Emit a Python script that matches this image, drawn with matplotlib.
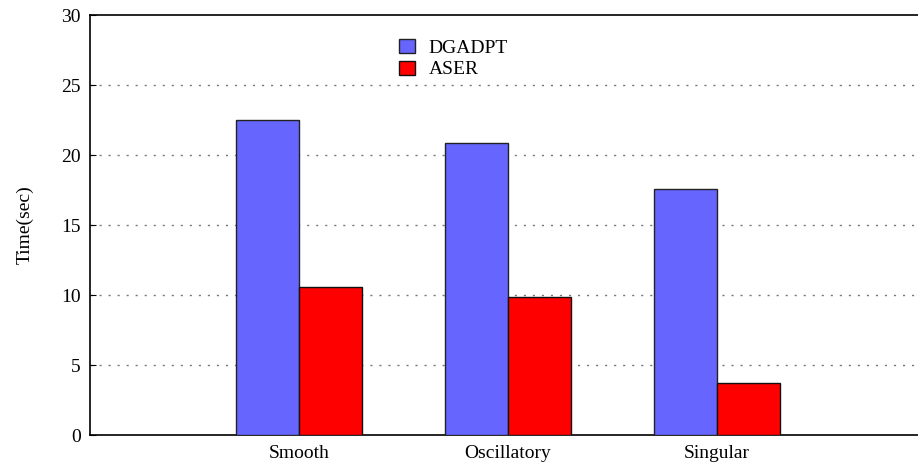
import matplotlib.pyplot as plt
import numpy as np

plt.rcParams['font.family'] = ['Liberation Serif', 'DejaVu Serif']

cases = ['Smooth', 'Oscillatory', 'Singular']
dgadpt = [22.5, 20.85, 17.6]
aser = [10.6, 9.85, 3.75]

W, H = 918, 470
fig = plt.figure(figsize=(W / 100, H / 100), dpi=100)
# axes run past the right edge of the figure, like the gnuplot output
ax = fig.add_axes([90 / W, (H - 435) / H, 836 / W, 420 / H])

x = np.arange(len(cases))
bw = 0.3
ax.bar(x - bw / 2, dgadpt, bw, color='#6666ff', edgecolor='#222222',
       linewidth=1, label='DGADPT', zorder=3)
ax.bar(x + bw / 2, aser, bw, color='#ff0000', edgecolor='#111111',
       linewidth=1, label='ASER', zorder=3)

ax.set_xlim(-1, 3)
ax.set_ylim(0, 30)
ax.set_yticks(range(0, 31, 5))
ax.set_xticks(x)
ax.set_xticklabels(cases, fontsize=14)
ax.tick_params(axis='x', length=0, pad=7)
ax.tick_params(axis='y', direction='in', length=4, labelsize=14, pad=6.5)
ax.set_ylabel('Time(sec)', fontsize=14, labelpad=20)

for v in range(5, 30, 5):
    ax.axhline(v, color='#777777', linestyle=(0, (1.5, 5)), linewidth=1, zorder=1)

ax.spines['right'].set_visible(False)
for s in ['left', 'top', 'bottom']:
    ax.spines[s].set_linewidth(1.2)

ax.legend(loc='upper left', bbox_to_anchor=(389 / W, 1 - 29 / H),
          bbox_transform=fig.transFigure, frameon=False, fontsize=14,
          handlelength=0.85, handleheight=0.75, handletextpad=0.7,
          labelspacing=0.2, borderpad=0)

fig.savefig('out.png', dpi=100)
